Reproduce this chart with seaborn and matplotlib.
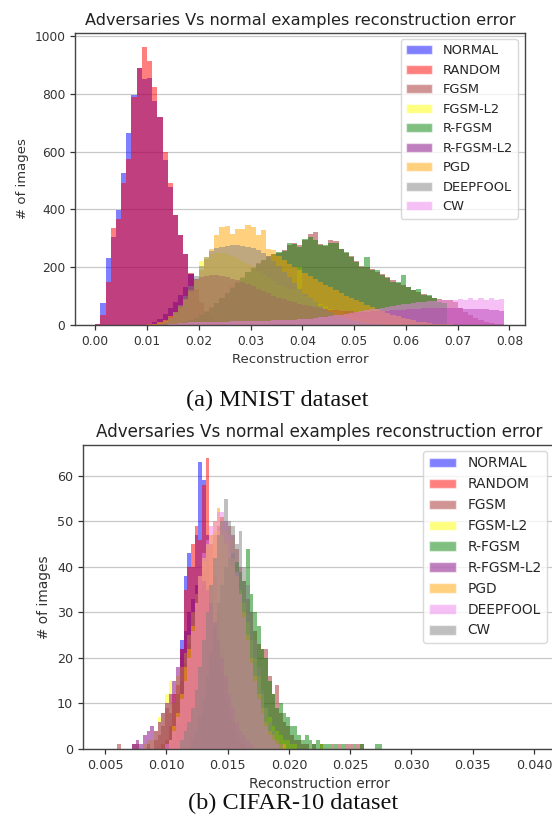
import numpy as np
import pandas as pd
import matplotlib
matplotlib.use("Agg")
import matplotlib.pyplot as plt
from matplotlib.patches import Patch
import seaborn as sns

# ---------------- MNIST (top) ----------------
mnist_bin_width = 0.001
mnist_bin_start = 0.0
mnist_labels = ["NORMAL", "RANDOM", "FGSM", "FGSM-L2", "R-FGSM", "R-FGSM-L2", "PGD", "DEEPFOOL", "CW"]
mnist_colors = ["blue", "red", "brown", "yellow", "green", "purple", "orange", "grey", "violet"]

mnist_normal = [5, 75, 233, 305, 397, 525, 664, 797, 890, 850, 855, 776, 720, 569, 477, 382, 310, 247, 178, 120,
                75, 45, 25, 14, 8, 4, 2, 1, 0, 0, 0, 0, 0, 0, 0, 0, 0, 0, 0, 0,
                0, 0, 0, 0, 0, 0, 0, 0, 0, 0, 0, 0, 0, 0, 0, 0, 0, 0, 0, 0,
                0, 0, 0, 0, 0, 0, 0, 0, 0, 0, 0, 0, 0, 0, 0, 0, 0, 0, 0]
mnist_random = [2, 35, 150, 337, 365, 490, 575, 787, 890, 962, 914, 822, 720, 598, 492, 382, 310, 247, 180, 125,
                80, 48, 27, 15, 8, 4, 2, 1, 0, 0, 0, 0, 0, 0, 0, 0, 0, 0, 0, 0,
                0, 0, 0, 0, 0, 0, 0, 0, 0, 0, 0, 0, 0, 0, 0, 0, 0, 0, 0, 0,
                0, 0, 0, 0, 0, 0, 0, 0, 0, 0, 0, 0, 0, 0, 0, 0, 0, 0, 0]
mnist_fgsm = [0, 0, 0, 0, 0, 0, 0, 0, 0, 0, 0, 0, 0, 0, 0, 3, 6, 11, 17, 25,
              35, 47, 61, 76, 93, 112, 130, 148, 166, 183, 199, 213, 226, 237, 246, 250, 258, 275, 282, 278,
              295, 316, 322, 280, 272, 293, 290, 262, 250, 238, 222, 205, 200, 192, 185, 175, 165, 155, 145, 140,
              130, 120, 115, 108, 100, 95, 90, 88, 85, 78, 60, 45, 35, 25, 18, 12, 8, 5, 3]
mnist_fgsm_l2 = [0, 0, 0, 0, 0, 0, 0, 0, 0, 0, 0, 3, 8, 15, 25, 40, 60, 85, 115, 160,
                 222, 235, 245, 250, 250, 245, 240, 232, 222, 212, 200, 188, 176, 164, 152, 140, 130, 120, 125, 200,
                 100, 90, 80, 72, 64, 57, 50, 44, 38, 33, 28, 24, 20, 17, 14, 12, 10, 8, 7, 6,
                 5, 4, 3, 3, 2, 2, 1, 1, 1, 1, 1, 0, 0, 0, 0, 0, 0, 0, 0]
mnist_rfgsm = [0, 0, 0, 0, 0, 0, 0, 0, 0, 0, 0, 0, 0, 0, 0, 3, 6, 10, 16, 24,
               34, 46, 60, 75, 92, 110, 128, 146, 164, 182, 198, 212, 225, 236, 245, 253, 255, 282, 280, 270,
               299, 305, 293, 276, 276, 285, 282, 264, 253, 236, 218, 201, 236, 190, 190, 172, 161, 149, 149, 172,
               132, 121, 126, 103, 103, 92, 80, 75, 0, 0, 0, 0, 0, 0, 0, 0, 0, 0, 0]
mnist_rfgsm_l2 = [0, 0, 0, 0, 0, 0, 0, 0, 0, 0, 5, 12, 22, 38, 58, 80, 105, 130, 175, 160,
                  165, 170, 172, 172, 170, 166, 160, 154, 148, 141, 134, 126, 118, 110, 102, 95, 89, 83, 78, 73,
                  69, 65, 61, 58, 55, 53, 51, 49, 48, 47, 46, 46, 46, 47, 48, 49, 50, 51, 52, 53,
                  55, 56, 57, 58, 58, 59, 60, 60, 60, 58, 58, 57, 56, 55, 55, 54, 53, 52, 50]
mnist_pgd = [0, 0, 0, 0, 0, 0, 0, 0, 0, 0, 2, 5, 10, 18, 30, 45, 65, 90, 120, 155,
             190, 230, 264, 310, 338, 341, 316, 333, 333, 345, 340, 310, 328, 264, 258, 240, 225, 210, 200, 190,
             180, 170, 160, 150, 140, 130, 120, 110, 100, 92, 85, 78, 70, 62, 55, 48, 42, 36, 30, 25,
             20, 16, 12, 9, 7, 5, 4, 3, 2, 1, 0, 0, 0, 0, 0, 0, 0, 0, 0]
mnist_deepfool = [0, 0, 0, 0, 0, 0, 0, 0, 0, 0, 0, 0, 5, 12, 25, 45, 70, 100, 135, 170,
                  205, 235, 255, 265, 270, 272, 275, 278, 272, 270, 265, 258, 250, 238, 222, 205, 185, 165, 145, 125,
                  108, 92, 78, 65, 54, 44, 36, 29, 23, 18, 14, 10, 7, 5, 3, 2, 1, 0, 0, 0,
                  0, 0, 0, 0, 0, 0, 0, 0, 0, 0, 0, 0, 0, 0, 0, 0, 0, 0, 0]
mnist_cw = [0, 0, 0, 0, 0, 0, 0, 0, 0, 0, 0, 0, 0, 0, 3, 5, 7, 8, 9, 10,
            10, 11, 11, 12, 12, 12, 13, 13, 13, 14, 14, 14, 15, 15, 16, 16, 17, 18, 19, 20,
            21, 22, 24, 26, 28, 30, 33, 36, 39, 42, 45, 48, 51, 54, 57, 60, 63, 66, 69, 72,
            74, 76, 78, 80, 82, 84, 85, 86, 87, 88, 90, 85, 93, 88, 95, 85, 92, 88, 90]
mnist_series = [mnist_normal, mnist_random, mnist_fgsm, mnist_fgsm_l2, mnist_rfgsm,
                mnist_rfgsm_l2, mnist_pgd, mnist_deepfool, mnist_cw]
mnist_xticks = [0.00, 0.01, 0.02, 0.03, 0.04, 0.05, 0.06, 0.07, 0.08]
mnist_yticks = [0, 200, 400, 600, 800, 1000]

# ---------------- CIFAR-10 (bottom) ----------------
cifar_bin_width = 0.0003
cifar_bin_start = 0.0060
cifar_labels = ["NORMAL", "RANDOM", "FGSM", "FGSM-L2", "R-FGSM", "R-FGSM-L2", "PGD", "DEEPFOOL", "CW"]
cifar_colors = ["blue", "red", "brown", "yellow", "green", "purple", "orange", "violet", "grey"]

cifar_normal = [0, 0, 0, 0, 0, 0, 0, 0, 0, 0, 0, 0, 0, 1, 1, 2, 6, 24, 38, 43,
                40, 47, 63, 59, 47, 36, 28, 22, 16, 11, 7, 4, 2, 1, 1, 0, 0, 0, 0, 0,
                0, 0, 0, 0, 0, 0, 0, 0, 0, 0, 0, 0, 0, 0, 0, 0, 0, 0, 0, 0,
                0, 0, 0, 0, 0, 0, 0, 0, 0, 0, 0, 0]
cifar_random = [0, 0, 0, 0, 0, 0, 0, 0, 0, 0, 0, 0, 1, 2, 5, 12, 14, 22, 35, 40,
                45, 49, 46, 58, 64, 45, 38, 30, 22, 16, 10, 6, 4, 2, 1, 0, 0, 0, 0, 0,
                0, 0, 0, 0, 0, 0, 0, 0, 0, 0, 0, 0, 0, 0, 0, 0, 0, 0, 0, 0,
                0, 0, 0, 0, 0, 0, 0, 0, 0, 0, 0, 0]
cifar_fgsm = [1, 0, 0, 0, 1, 1, 0, 0, 1, 0, 2, 3, 5, 9, 8, 10, 12, 15, 19, 23,
              27, 31, 35, 39, 42, 45, 47, 49, 51, 50, 49, 47, 44, 40, 37, 33, 30, 26, 23, 22,
              22, 16, 12, 14, 8, 6, 5, 3, 2, 2, 1, 1, 0, 1, 0, 1, 0, 0, 1, 0,
              1, 0, 1, 1, 0, 1, 1, 0, 0, 0, 0, 0]
cifar_fgsm_l2 = [0, 0, 0, 0, 0, 0, 0, 1, 2, 2, 4, 7, 8, 12, 15, 10, 16, 18, 21, 25,
                 30, 34, 38, 42, 45, 47, 48, 48, 47, 45, 42, 40, 38, 35, 32, 28, 24, 20, 16, 12,
                 9, 7, 5, 4, 3, 2, 2, 1, 1, 0, 0, 0, 0, 0, 0, 1, 0, 0, 0, 0,
                 0, 0, 0, 0, 0, 0, 0, 0, 0, 0, 0, 0]
cifar_rfgsm = [0, 0, 0, 0, 0, 0, 0, 0, 0, 0, 0, 0, 0, 0, 0, 0, 0, 0, 0, 0,
               2, 4, 7, 11, 16, 21, 27, 32, 36, 40, 42, 43, 41, 39, 37, 44, 34, 30, 27, 22,
               20, 15, 12, 9, 10, 8, 7, 5, 5, 3, 2, 3, 2, 1, 2, 1, 1, 1, 0, 1,
               0, 1, 0, 0, 1, 0, 1, 0, 0, 0, 1, 1]
cifar_rfgsm_l2 = [0, 0, 0, 0, 1, 2, 1, 3, 4, 5, 4, 6, 8, 10, 12, 15, 18, 22, 26, 30,
                  33, 36, 38, 37, 35, 32, 28, 24, 20, 16, 12, 9, 6, 4, 3, 2, 1, 0, 0, 0,
                  0, 0, 0, 0, 0, 0, 0, 0, 0, 0, 0, 0, 0, 0, 0, 0, 0, 0, 0, 0,
                  0, 0, 0, 0, 0, 0, 0, 0, 0, 0, 0, 0]
cifar_pgd = [0, 0, 0, 0, 0, 0, 0, 0, 0, 0, 0, 0, 0, 0, 2, 5, 8, 12, 18, 22,
             27, 32, 38, 41, 44, 47, 50, 53, 51, 48, 46, 42, 38, 34, 30, 25, 20, 16, 12, 9,
             6, 4, 3, 2, 1, 1, 0, 0, 0, 0, 0, 0, 0, 0, 0, 0, 0, 0, 0, 0,
             0, 0, 0, 0, 0, 0, 0, 0, 0, 0, 0, 0]
cifar_deepfool = [0, 0, 0, 0, 0, 0, 0, 0, 0, 0, 0, 0, 0, 1, 2, 4, 7, 11, 15, 20,
                  26, 32, 38, 43, 46, 49, 50, 52, 52, 50, 47, 43, 39, 34, 29, 24, 19, 15, 11, 8,
                  5, 3, 2, 1, 0, 0, 0, 0, 0, 0, 0, 0, 0, 0, 0, 0, 0, 0, 0, 0,
                  0, 0, 0, 0, 0, 0, 0, 0, 0, 0, 0, 0]
cifar_cw = [0, 0, 0, 0, 0, 0, 0, 0, 0, 0, 0, 0, 0, 0, 0, 0, 0, 2, 4, 6,
            9, 13, 18, 24, 30, 36, 42, 47, 50, 55, 50, 49, 45, 48, 40, 36, 30, 24, 18, 13,
            9, 6, 4, 2, 1, 0, 0, 0, 0, 0, 0, 0, 0, 0, 0, 0, 0, 0, 0, 0,
            0, 0, 0, 0, 0, 0, 0, 0, 0, 0, 0, 0]
cifar_series = [cifar_normal, cifar_random, cifar_fgsm, cifar_fgsm_l2, cifar_rfgsm,
                cifar_rfgsm_l2, cifar_pgd, cifar_deepfool, cifar_cw]
cifar_xticks = [0.005, 0.010, 0.015, 0.020, 0.025, 0.030, 0.035, 0.040]
cifar_yticks = [0, 10, 20, 30, 40, 50, 60]

title_text = "Adversaries Vs normal examples reconstruction error"
xlabel_text = "Reconstruction error"
ylabel_text = "# of images"

# ---------------- drawing ----------------
sns.set_style("ticks")
plt.rcParams["font.family"] = ["DejaVu Sans"]
plt.rcParams["axes.edgecolor"] = "#444444"
plt.rcParams["axes.linewidth"] = 1.0

W, H = 552, 833
fig = plt.figure(figsize=(W / 100, H / 100), dpi=100)


def draw_panel(ax, counts_list, labels, colors, bw, start, xticks, yticks, xfmt, xlim, ylim,
               fs, lab_fs, title_fs, leg_fs, legend_anchor):
    nb = len(counts_list[0])
    edges = [float(start + bw * i) for i in range(nb + 1)]
    centers = [float(start + bw * (i + 0.5)) for i in range(nb)]
    for counts, lab, col in zip(counts_list, labels, colors):
        df = pd.DataFrame({"err": centers, "n": counts})
        sns.histplot(data=df, x="err", weights="n", bins=edges, color=col, alpha=0.5,
                     element="bars", fill=True, linewidth=0, edgecolor="none", ax=ax)
    ax.set_xlim(*xlim)
    ax.set_ylim(*ylim)
    ax.set_xticks(xticks)
    ax.set_xticklabels([xfmt.format(v) for v in xticks])
    ax.set_yticks(yticks)
    ax.tick_params(labelsize=fs, colors="#333333", length=3.5, width=0.9)
    ax.set_axisbelow(True)
    ax.yaxis.grid(True, color="#c8c8c8", linewidth=0.9)
    ax.xaxis.grid(False)
    ax.set_xlabel(xlabel_text, fontsize=lab_fs, color="#333333")
    ax.set_ylabel(ylabel_text, fontsize=lab_fs, color="#333333")
    ax.set_title(title_text, fontsize=title_fs, color="#222222")
    for s in ax.spines.values():
        s.set_visible(True)
    handles = [Patch(facecolor=c, alpha=0.5, label=l) for l, c in zip(labels, colors)]
    ax.legend(handles=handles, loc="upper right", bbox_to_anchor=legend_anchor,
              bbox_transform=fig.transFigure, borderaxespad=0, fontsize=leg_fs,
              frameon=True, framealpha=0.8, edgecolor="#d0d0d0", fancybox=True)


ax1 = fig.add_axes([75 / W, 1 - 325 / H, 450 / W, 292 / H])
draw_panel(ax1, mnist_series, mnist_labels, mnist_colors, mnist_bin_width, mnist_bin_start,
           mnist_xticks, mnist_yticks, "{:.2f}", (-0.0039, 0.083), (0, 1010),
           8.8, 9.5, 11.6, 9.4, (518 / W, 1 - 39 / H))

ax2 = fig.add_axes([83 / W, 1 - 749 / H, 473 / W, 304 / H])
draw_panel(ax2, cifar_series, cifar_labels, cifar_colors, cifar_bin_width, cifar_bin_start,
           cifar_xticks, cifar_yticks, "{:.3f}", (0.0032, 0.04179), (0, 66.8),
           9.2, 9.9, 12.1, 9.9, (547 / W, 1 - 451 / H))

fig.text(277 / W, 1 - 400 / H, "(a) MNIST dataset", ha="center", va="center",
         family=["Liberation Serif", "DejaVu Serif"], fontsize=17.5, color="#111111")
fig.text(293 / W, 1 - 803 / H, "(b) CIFAR-10 dataset", ha="center", va="center",
         family=["Liberation Serif", "DejaVu Serif"], fontsize=17.5, color="#111111")

fig.savefig("out.png", dpi=100, facecolor="white")
